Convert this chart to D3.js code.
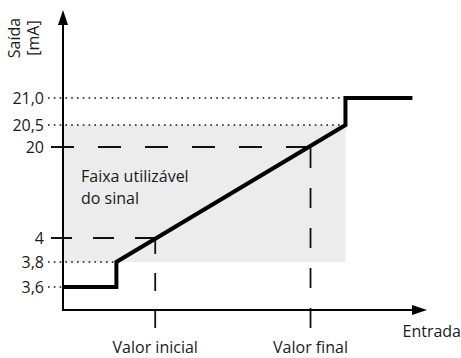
<!DOCTYPE html>
<html>
<head>
<meta charset="utf-8">
<script src="https://cdn.jsdelivr.net/npm/d3@7"></script>
<style>
  html, body { margin: 0; padding: 0; background: #fff; }
  text { font-family: "Open Sans", sans-serif; fill: #1a1a1a; font-size: 16px; }
</style>
</head>
<body>
<div id="chart"></div>
<script>
`use strict`;

// output ticks (mA) and their labels
const outTicks = [3.6, 3.8, 4, 20, 20.5, 21];
const outLabels = [`3,6`, `3,8`, `4`, `20`, `20,5`, `21,0`];

// characteristic curve: input (arbitrary units) -> output (mA)
const curveIn = [-5.5, 0, 0, 23.6, 23.6, 30.5];
const curveOut = [3.6, 3.6, 3.8, 20.5, 21, 21];

// marked input points
const markIn = [4, 20];
const markOut = [4, 20];
const markLabels = [`Valor inicial`, `Valor final`];

// usable band
const bandIn = [-5.5, 23.6];
const bandOut = [3.8, 20.5];

(function () {

  const W = 461, H = 358;
  const axisTop = 10, axisBottom = 310;

  const svg = d3.select(`#chart`).append(`svg`)
    .attr(`width`, W)
    .attr(`height`, H);

  const x = d3.scaleLinear().domain([-5.5, 32]).range([63, 427]);

  // schematic (broken) output axis
  const y = d3.scaleLinear()
    .domain(outTicks)
    .range([287, 262, 238, 147, 125, 98]);

  // grey band
  svg.append(`rect`)
    .attr(`x`, x(bandIn[0]))
    .attr(`y`, y(bandOut[1]))
    .attr(`width`, x(bandIn[1]) - x(bandIn[0]))
    .attr(`height`, y(bandOut[0]) - y(bandOut[1]))
    .attr(`fill`, `#ebeceb`);

  svg.append(`text`)
    .attr(`x`, 81)
    .attr(`y`, 182)
    .text(`Faixa utilizável`);

  svg.append(`text`)
    .attr(`x`, 81)
    .attr(`y`, 204)
    .text(`do sinal`);

  // dotted guide lines (3,6 / 3,8 / 20,5 / 21,0)
  const dotted = outTicks.filter(v => v !== 4 && v !== 20);

  svg.selectAll(`line.dot`).data(dotted)
    .enter()
    .append(`line`)
    .attr(`class`, `dot`)
    .attr(`x1`, 48)
    .attr(`x2`, d => d <= 3.8 ? x(0) : x(23.6))
    .attr(`y1`, d => y(d))
    .attr(`y2`, d => y(d))
    .attr(`stroke`, `#111`)
    .attr(`stroke-width`, 1.6)
    .attr(`stroke-dasharray`, `1.6,4.2`);

  // dashed guides for marked points
  svg.selectAll(`line.hdash`).data(markOut)
    .enter()
    .append(`line`)
    .attr(`class`, `hdash`)
    .attr(`x1`, 51)
    .attr(`x2`, (d, i) => x(markIn[i]))
    .attr(`y1`, d => y(d))
    .attr(`y2`, d => y(d))
    .attr(`stroke`, `#111`)
    .attr(`stroke-width`, 1.8)
    .attr(`stroke-dasharray`, (d, i) => i === 0 ? `21,21` : `23,24`);

  svg.selectAll(`line.vdash`).data(markIn)
    .enter()
    .append(`line`)
    .attr(`class`, `vdash`)
    .attr(`x1`, d => x(d))
    .attr(`x2`, d => x(d))
    .attr(`y1`, 328)
    .attr(`y2`, (d, i) => y(markOut[i]))
    .attr(`stroke`, `#111`)
    .attr(`stroke-width`, 1.8)
    .attr(`stroke-dasharray`, (d, i) => i === 0 ? `18,19` : `20,20`);

  // tick labels
  svg.selectAll(`text.ylab`).data(outTicks)
    .enter()
    .append(`text`)
    .attr(`class`, `ylab`)
    .attr(`x`, 44)
    .attr(`y`, d => y(d) + 5.5)
    .attr(`text-anchor`, `end`)
    .text((d, i) => outLabels[i]);

  svg.selectAll(`text.xlab`).data(markIn)
    .enter()
    .append(`text`)
    .attr(`class`, `xlab`)
    .attr(`x`, d => x(d))
    .attr(`y`, 353)
    .attr(`text-anchor`, `middle`)
    .text((d, i) => markLabels[i]);

  // axes with arrows
  svg.append(`line`)
    .attr(`x1`, x(-5.5)).attr(`x2`, x(-5.5))
    .attr(`y1`, axisBottom + 1).attr(`y2`, axisTop + 12)
    .attr(`stroke`, `#000`).attr(`stroke-width`, 2);

  svg.append(`path`)
    .attr(`d`, `M${x(-5.5)},${axisTop} l-5,15 l10,0 z`)
    .attr(`fill`, `#000`);

  svg.append(`line`)
    .attr(`x1`, x(-5.5) - 1).attr(`x2`, x(32) - 12)
    .attr(`y1`, axisBottom).attr(`y2`, axisBottom)
    .attr(`stroke`, `#000`).attr(`stroke-width`, 2);

  svg.append(`path`)
    .attr(`d`, `M${x(32)},${axisBottom} l-15,-5 l0,10 z`)
    .attr(`fill`, `#000`);

  // characteristic curve
  const line = d3.line()
    .x(d => x(d[0]))
    .y(d => y(d[1]));

  svg.append(`path`)
    .datum(curveIn.map((v, i) => [v, curveOut[i]]))
    .attr(`d`, line)
    .attr(`fill`, `none`)
    .attr(`stroke`, `#000`)
    .attr(`stroke-width`, 4)
    .attr(`stroke-linejoin`, `miter`);

  // axis titles
  svg.append(`text`)
    .attr(`transform`, `translate(20,38) rotate(-90)`)
    .attr(`text-anchor`, `middle`)
    .text(`Saída`);

  svg.append(`text`)
    .attr(`transform`, `translate(39,38) rotate(-90)`)
    .attr(`text-anchor`, `middle`)
    .text(`[mA]`);

  svg.append(`text`)
    .attr(`x`, 461)
    .attr(`y`, 337)
    .attr(`text-anchor`, `end`)
    .text(`Entrada`);
})();
</script>
</body>
</html>
